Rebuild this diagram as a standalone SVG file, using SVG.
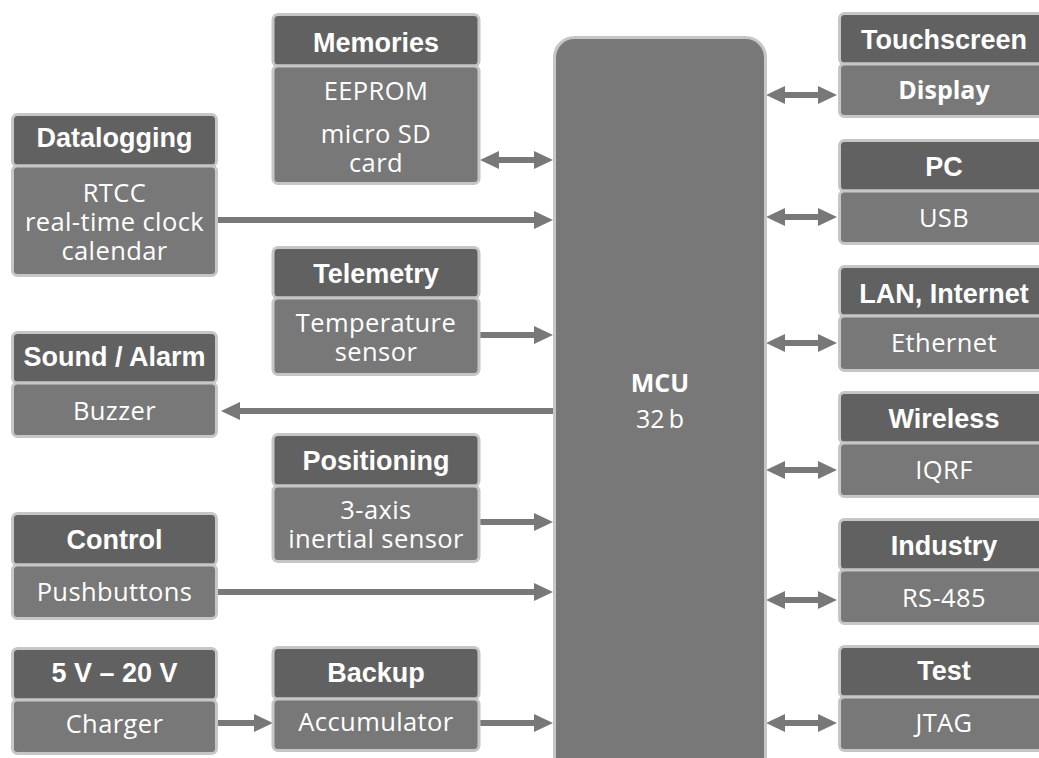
<svg xmlns="http://www.w3.org/2000/svg" width="1039" height="758" viewBox="0 0 1039 758">
<style>
.hd{fill:#616161;stroke:#c6c6c6;stroke-width:3}
.bd{fill:#787878;stroke:#c6c6c6;stroke-width:3}
.mcu{fill:#787878;stroke:#c6c6c6;stroke-width:3}
.h{font-family:"Liberation Sans",Arial,sans-serif;font-weight:bold;font-size:27px;fill:#fff;text-anchor:middle}
.b{font-family:"Open Sans","Noto Sans",sans-serif;font-size:25.5px;letter-spacing:0.4px;fill:#fff;text-anchor:middle}
.bb{font-family:"Open Sans","Noto Sans",sans-serif;font-weight:bold;font-size:25px;fill:#fff;text-anchor:middle}
.m{font-family:"Open Sans","Noto Sans",sans-serif;font-size:25px;fill:#fff;text-anchor:middle}
.ar{stroke:#787878;stroke-width:6;fill:none}
</style>
<defs>
<marker id="ah" markerUnits="userSpaceOnUse" markerWidth="19" markerHeight="18" viewBox="0 0 19 18" refX="9" refY="9" orient="auto-start-reverse">
<path d="M0,0 L19,9 L0,18 z" fill="#787878"/>
</marker>
</defs>
<rect width="1039" height="758" fill="#fff"/>

<g id="connectors">
<line class="ar" x1="490" y1="160" x2="543" y2="160" marker-start="url(#ah)" marker-end="url(#ah)"/>
<line class="ar" x1="218" y1="220" x2="543" y2="220" marker-end="url(#ah)"/>
<line class="ar" x1="480" y1="335" x2="543" y2="335" marker-end="url(#ah)"/>
<line class="ar" x1="553" y1="411" x2="231" y2="411" marker-end="url(#ah)"/>
<line class="ar" x1="480" y1="522" x2="543" y2="522" marker-end="url(#ah)"/>
<line class="ar" x1="218" y1="592" x2="543" y2="592" marker-end="url(#ah)"/>
<line class="ar" x1="218" y1="723" x2="263" y2="723" marker-end="url(#ah)"/>
<line class="ar" x1="480" y1="723" x2="543" y2="723" marker-end="url(#ah)"/>
<line class="ar" x1="776" y1="95" x2="827" y2="95" marker-start="url(#ah)" marker-end="url(#ah)"/>
<line class="ar" x1="776" y1="217" x2="827" y2="217" marker-start="url(#ah)" marker-end="url(#ah)"/>
<line class="ar" x1="776" y1="343" x2="827" y2="343" marker-start="url(#ah)" marker-end="url(#ah)"/>
<line class="ar" x1="776" y1="470" x2="827" y2="470" marker-start="url(#ah)" marker-end="url(#ah)"/>
<line class="ar" x1="776" y1="600" x2="827" y2="600" marker-start="url(#ah)" marker-end="url(#ah)"/>
<line class="ar" x1="776" y1="723" x2="827" y2="723" marker-start="url(#ah)" marker-end="url(#ah)"/>
</g>

<g id="mcu">
<rect class="mcu" x="554.5" y="37.5" width="211" height="760" rx="20"/>
<text class="m" x="660" y="392" font-weight="bold">MCU</text>
<text class="m" x="660" y="428">32<tspan dx="4">b</tspan></text>
</g>

<g id="datalogging">
<rect class="hd" x="12.5" y="114.5" width="204" height="51.5" rx="5"/>
<rect class="bd" x="12.5" y="166" width="204" height="109.5" rx="5"/>
<text class="h" x="114.5" y="146.5">Datalogging</text>
<text class="b" x="114.5" y="202">RTCC</text>
<text class="b" x="114.5" y="231">real-time clock</text>
<text class="b" x="114.5" y="260">calendar</text>
</g>

<g id="sound">
<rect class="hd" x="12.5" y="332.5" width="204" height="50.5" rx="5"/>
<rect class="bd" x="12.5" y="383" width="204" height="53.5" rx="5"/>
<text class="h" x="114.5" y="365.5">Sound / Alarm</text>
<text class="b" x="114.5" y="420">Buzzer</text>
</g>

<g id="control">
<rect class="hd" x="12.5" y="513.5" width="204" height="51.5" rx="5"/>
<rect class="bd" x="12.5" y="565" width="204" height="53.5" rx="5"/>
<text class="h" x="114.5" y="548.5">Control</text>
<text class="b" x="114.5" y="601">Pushbuttons</text>
</g>

<g id="charger">
<rect class="hd" x="12.5" y="648.5" width="204" height="51.5" rx="5"/>
<rect class="bd" x="12.5" y="700" width="204" height="53.5" rx="5"/>
<text class="h" x="114.5" y="681.5">5 V – 20 V</text>
<text class="b" x="114.5" y="733">Charger</text>
</g>

<g id="memories">
<rect class="hd" x="273" y="14.5" width="206" height="51.5" rx="5"/>
<rect class="bd" x="273" y="66" width="206" height="117.5" rx="5"/>
<text class="h" x="376" y="52">Memories</text>
<text class="b" x="376" y="100">EEPROM</text>
<text class="b" x="376" y="143">micro SD</text>
<text class="b" x="376" y="172">card</text>
</g>

<g id="telemetry">
<rect class="hd" x="273" y="247.5" width="206" height="50.5" rx="5"/>
<rect class="bd" x="273" y="298" width="206" height="76.5" rx="5"/>
<text class="h" x="376" y="282.5">Telemetry</text>
<text class="b" x="376" y="332">Temperature</text>
<text class="b" x="376" y="361">sensor</text>
</g>

<g id="positioning">
<rect class="hd" x="273" y="434.5" width="206" height="51.5" rx="5"/>
<rect class="bd" x="273" y="486" width="206" height="75.5" rx="5"/>
<text class="h" x="376" y="469.5">Positioning</text>
<text class="b" x="376" y="519">3-axis</text>
<text class="b" x="376" y="548">inertial sensor</text>
</g>

<g id="backup">
<rect class="hd" x="273" y="647.5" width="206" height="51.5" rx="5"/>
<rect class="bd" x="273" y="699" width="206" height="51.5" rx="5"/>
<text class="h" x="376" y="681.5">Backup</text>
<text class="b" x="376" y="731">Accumulator</text>
</g>

<g id="touchscreen">
<rect class="hd" x="839.5" y="13.5" width="210" height="50.5" rx="5"/>
<rect class="bd" x="839.5" y="64" width="210" height="52.5" rx="5"/>
<text class="h" x="944" y="49">Touchscreen</text>
<text class="bb" x="944" y="99">Display</text>
</g>

<g id="pc">
<rect class="hd" x="839.5" y="140.5" width="210" height="50.5" rx="5"/>
<rect class="bd" x="839.5" y="191" width="210" height="52.5" rx="5"/>
<text class="h" x="944" y="175.5">PC</text>
<text class="b" x="944" y="227">USB</text>
</g>

<g id="lan">
<rect class="hd" x="839.5" y="266.5" width="210" height="49.5" rx="5"/>
<rect class="bd" x="839.5" y="316" width="210" height="54.5" rx="5"/>
<text class="h" x="944" y="302.5">LAN, Internet</text>
<text class="b" x="944" y="352">Ethernet</text>
</g>

<g id="wireless">
<rect class="hd" x="839.5" y="392.5" width="210" height="50.5" rx="5"/>
<rect class="bd" x="839.5" y="443" width="210" height="53.5" rx="5"/>
<text class="h" x="944" y="427.5">Wireless</text>
<text class="b" x="944" y="479">IQRF</text>
</g>

<g id="industry">
<rect class="hd" x="839.5" y="519.5" width="210" height="50.5" rx="5"/>
<rect class="bd" x="839.5" y="570" width="210" height="53.5" rx="5"/>
<text class="h" x="944" y="554.5">Industry</text>
<text class="b" x="944" y="607">RS-485</text>
</g>

<g id="test">
<rect class="hd" x="839.5" y="646.5" width="210" height="50.5" rx="5"/>
<rect class="bd" x="839.5" y="697" width="210" height="53.5" rx="5"/>
<text class="h" x="944" y="679.5">Test</text>
<text class="b" x="944" y="732">JTAG</text>
</g>
</svg>
